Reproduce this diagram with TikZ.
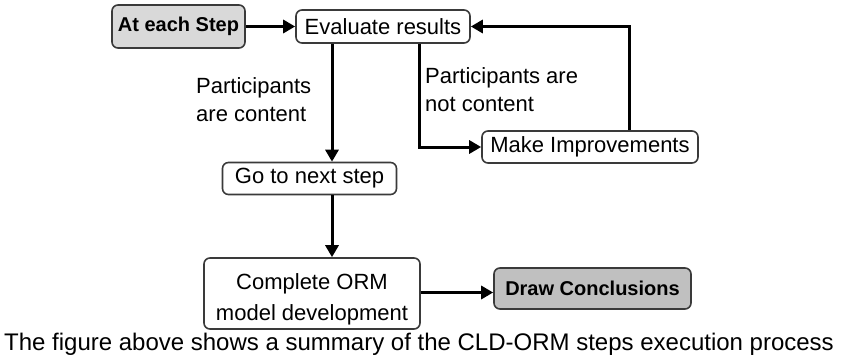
\documentclass[tikz,border=0pt]{standalone}
\usepackage{fontspec}
\setmainfont{Liberation Sans}
\usetikzlibrary{arrows.meta}
\definecolor{boxline}{HTML}{3A3A3A}
\definecolor{lightfill}{HTML}{D9D9D9}
\definecolor{darkfill}{HTML}{C0C0C0}
\begin{document}
\begin{tikzpicture}[x=1pt,y=-1pt,
  box/.style={draw=boxline, line width=1.6pt, rounded corners=6pt, inner sep=0pt,
     align=center, font=\fontsize{22}{31}\selectfont},
  keybox/.style={box, font=\fontsize{20}{24}\selectfont\bfseries},
  arr/.style={line width=3pt, -{Triangle[length=12pt,width=13pt]}},
  lbl/.style={inner sep=0pt, align=left, font=\fontsize{22}{28}\selectfont}]
\useasboundingbox (0,0) rectangle (841,356);
% nodes
\node[keybox, fill=lightfill, minimum width=133, minimum height=43] (step) at (178.5,26.5) {At each Step};
\node[box, fill=white, minimum width=174, minimum height=33] (eval) at (383,26.5) {Evaluate results};
\node[box, fill=white, minimum width=216, minimum height=32] (mi) at (590,147) {Make Improvements};
\node[box, fill=white, minimum width=174, minimum height=32] (go) at (309.5,178.5) {Go to next step};
\node[box, fill=white, minimum width=216, minimum height=71] (comp) at (312,293.5) {\rule{0pt}{27pt}Complete ORM\\model development};
\node[keybox, fill=darkfill, minimum width=197, minimum height=41] (dc) at (592.5,288.5) {Draw Conclusions};
% labels
\node[lbl, anchor=north west] (l1) at (196,77) {Participants\\are content};
\node[lbl, anchor=north west] (l2) at (425,67) {Participants are\\not content};
\node[inner sep=0pt, anchor=base, font=\fontsize{24}{28}\selectfont] (cap) at (419,350) {The figure above shows a summary of the CLD-ORM steps execution process};
% helper coordinates
\coordinate (vx) at (332,0);
\coordinate (vy) at (419,0);
\coordinate (vz) at (629,0);
% connectors
\draw[arr] (step.east) -- (eval.west);
\draw[arr] (eval.south -| vx) -- (go.north -| vx);
\draw[arr] (go.south -| vx) -- (comp.north -| vx);
\draw[arr] (eval.south -| vy) |- (mi.west);
\draw[arr] (mi.north -| vz) |- (eval.east);
\draw[arr] (comp.east |- 0,292.5) -- (dc.west |- 0,292.5);
\end{tikzpicture}
\end{document}
